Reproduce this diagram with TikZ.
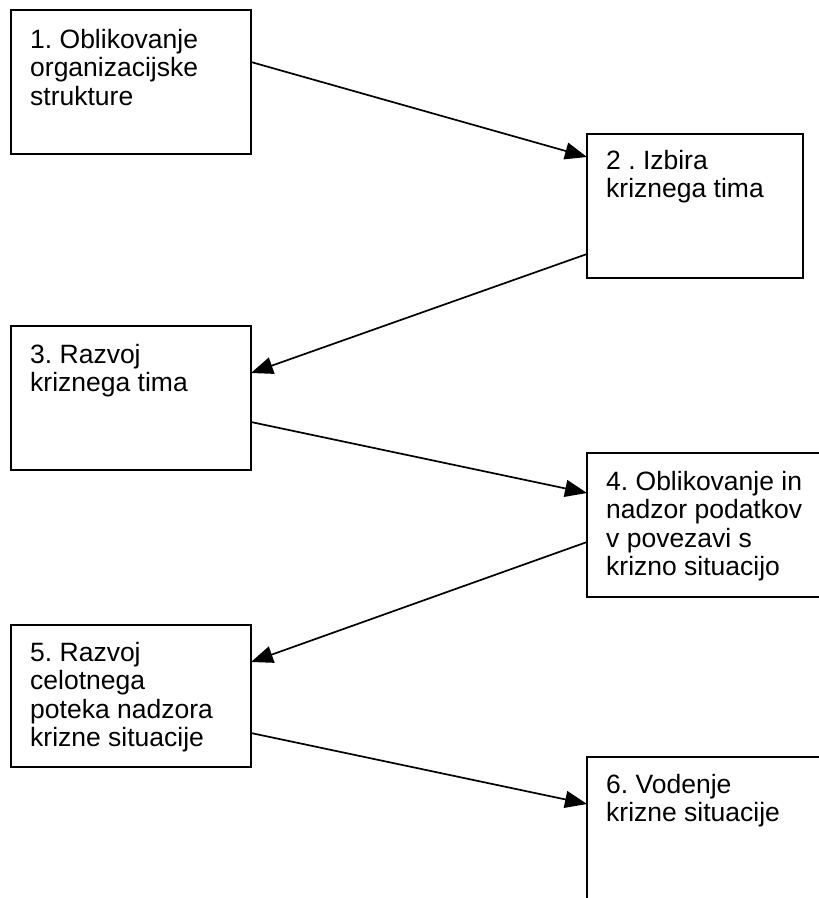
\documentclass[tikz,border=0pt]{standalone}
\usepackage{fontspec}
\setmainfont{Liberation Sans}
\frenchspacing
\usetikzlibrary{arrows.meta}
\begin{document}
\begin{tikzpicture}[x=1pt,y=-1pt,
  box/.style={draw, line width=2pt, minimum width=#1, minimum height=144pt, anchor=north west, inner sep=0pt, outer sep=0pt},
  box/.default=240pt,
  txt/.style={anchor=north west, inner sep=0pt, align=left, font=\fontsize{26.5}{28.5}\selectfont},
  link/.style={line width=1.7pt, -{Triangle[length=22pt,width=17pt]}}
]
\clip (0,0) rectangle (819,898);
\useasboundingbox (0,0) rectangle (819,898);

\node[box] (b1) at (11,10) {};
\node[box=216pt] (b2) at (587,134) {};
\node[box] (b3) at (11,326) {};
\node[box] (b4) at (587,453) {};
\node[box, minimum height=142pt] (b5) at (11,625) {};
\node[box, minimum height=200pt] (b6) at (587,757) {};

\node[txt] (t1) at ([shift={(19pt,-18pt)}]b1.north west) {\strut 1. Oblikovanje\\organizacijske\\strukture};
\node[txt] (t2) at ([shift={(19pt,-15pt)}]b2.north west) {\strut 2 . Izbira\\kriznega tima};
\node[txt] (t3) at ([shift={(19pt,-17pt)}]b3.north west) {\strut 3. Razvoj\\kriznega tima};
\node[txt] (t4) at ([shift={(19pt,-17pt)}]b4.north west) {\strut 4. Oblikovanje in\\nadzor podatkov\\v povezavi s\\krizno situacijo};
\node[txt] (t5) at ([shift={(19pt,-16pt)}]b5.north west) {\strut 5. Razvoj\\celotnega\\poteka nadzora\\krizne situacije};
\node[txt] (t6) at ([shift={(19pt,-16pt)}]b6.north west) {\strut 6. Vodenje\\krizne situacije};

\draw[link] ([yshift=-52pt]b1.north east) -- ([yshift=-23pt]b2.north west);
\draw[link] ([yshift=-120pt]b2.north west) -- ([yshift=-47pt]b3.north east);
\draw[link] ([yshift=-96pt]b3.north east) -- ([yshift=-40pt]b4.north west);
\draw[link] ([yshift=-89pt]b4.north west) -- ([yshift=-37pt]b5.north east);
\draw[link] ([yshift=-108pt]b5.north east) -- ([yshift=-47pt]b6.north west);
\end{tikzpicture}
\end{document}
